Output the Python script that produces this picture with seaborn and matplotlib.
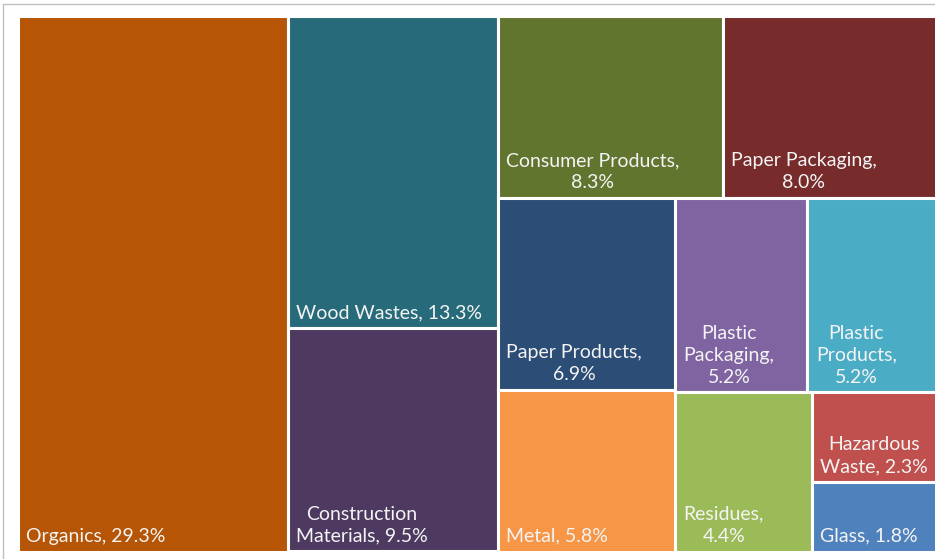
import matplotlib
matplotlib.use("Agg")
import matplotlib.pyplot as plt
import seaborn as sns
from matplotlib.patches import Rectangle
from matplotlib.lines import Line2D

# ---- data ----
categories = ["Organics", "Wood Wastes", "Construction Materials", "Consumer Products",
              "Paper Packaging", "Paper Products", "Metal", "Plastic Packaging",
              "Plastic Products", "Residues", "Hazardous Waste", "Glass"]
shares = [29.3, 13.3, 9.5, 8.3, 8.0, 6.9, 5.8, 5.2, 5.2, 4.4, 2.3, 1.8]
# label text as wrapped in the chart
label_texts = ["Organics, 29.3%", "Wood Wastes, 13.3%", "Construction\nMaterials, 9.5%",
               "Consumer Products,\n8.3%", "Paper Packaging,\n8.0%", "Paper Products,\n6.9%",
               "Metal, 5.8%", "Plastic\nPackaging,\n5.2%", "Plastic\nProducts,\n5.2%",
               "Residues,\n4.4%", "Hazardous\nWaste, 2.3%", "Glass, 1.8%"]
colors = ["#B55505", "#276B7A", "#4E3A60", "#62752F", "#772B2B", "#2C4D75",
          "#F79646", "#8064A2", "#4BACC6", "#9BBB59", "#C0504D", "#4F81BD"]


def worst(row, side):
    s = sum(row)
    return max(max(side * side * r / (s * s), (s * s) / (side * side * r)) for r in row)


def squarify(values, x, y, w, h):
    total = sum(values)
    vals = [v * w * h / total for v in values]
    rects = []
    while vals:
        side = min(w, h)
        row = [vals[0]]
        i = 1
        while i < len(vals) and worst(row + [vals[i]], side) <= worst(row, side):
            row.append(vals[i])
            i += 1
        s = sum(row)
        if w >= h:
            cw = s / h
            yy = y
            for v in row:
                rh = v / cw
                rects.append((x, yy, cw, rh))
                yy += rh
            x += cw
            w -= cw
        else:
            rh = s / w
            xx = x
            for v in row:
                rw = v / rh
                rects.append((xx, y, rw, rh))
                xx += rw
            y += rh
            h -= rh
        vals = vals[i:]
    return rects


sns.set_theme(style="white")
plt.rcParams["font.family"] = ["Lato", "DejaVu Sans"]

W_PX, H_PX = 935, 559
fig = plt.figure(figsize=(W_PX / 100, H_PX / 100), dpi=100)
fig.patch.set_facecolor("white")

ax_left, ax_bottom, ax_w, ax_h = 17.5, 7.5, 922, 536
ax = fig.add_axes([ax_left / W_PX, ax_bottom / H_PX, ax_w / W_PX, ax_h / H_PX])
ax.set_xlim(0, ax_w)
ax.set_ylim(ax_h, 0)
ax.axis("off")

rects = squarify(shares, 0, 0, ax_w, ax_h)
for (x, y, w, h), lab, col in zip(rects, label_texts, colors):
    ax.add_patch(Rectangle((x, y), w, h, facecolor=col, edgecolor="white", linewidth=2.2))
    ax.annotate(lab, xy=(x, y + h), xytext=(6.0, 7.0), textcoords="offset points",
                ha="left", va="baseline", multialignment="center",
                color="#F4F4F4", fontsize=14, linespacing=1.36)

# chart-area border (partially visible)
fig.add_artist(Line2D([3 / W_PX, 3 / W_PX], [0, 1 - 4 / H_PX], transform=fig.transFigure,
                      color="#BFBFBF", lw=1.0))
fig.add_artist(Line2D([3 / W_PX, 1], [1 - 4 / H_PX, 1 - 4 / H_PX], transform=fig.transFigure,
                      color="#BFBFBF", lw=1.0))

fig.savefig("out.png", dpi=100)
